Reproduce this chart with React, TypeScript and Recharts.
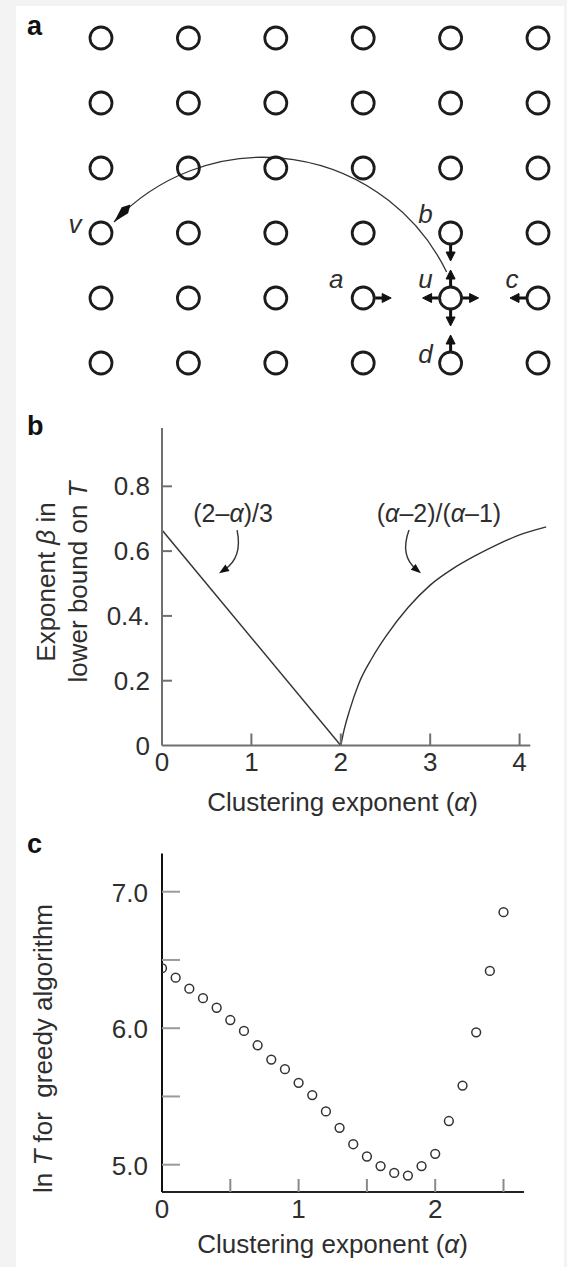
import React from 'react'
import {
  ScatterChart, Scatter, LineChart, Line, XAxis, YAxis, ReferenceLine, Label
} from 'recharts'

const FONT = '"Liberation Sans", Arial, Helvetica, sans-serif'
const INK = '#2e2e2e'
const AXIS_B = '#707070'

// panel a: 6 x 6 lattice, rows counted from the bottom
const gridCols = [0, 1, 2, 3, 4, 5]
const gridRows = [0, 1, 2, 3, 4, 5]
const nodeNames = ['v', 'b', 'a', 'u', 'c', 'd']
const nodeCols = [0, 4, 3, 4, 5, 4]
const nodeRows = [2, 2, 1, 1, 1, 0]
const localFrom = [[4, 1], [4, 1], [4, 1], [4, 1], [3, 1], [4, 2], [5, 1], [4, 0]]
const localTo = [[3, 1], [4, 2], [5, 1], [4, 0], [4, 1], [4, 1], [4, 1], [4, 1]]
const longFrom = [4, 1]
const longTo = [0, 2]

// panel b
const bAlpha = [0, 2, 2.03, 2.1, 2.2, 2.35, 2.5, 2.75, 3, 3.25, 3.5, 3.75, 4, 4.3]
const bLinear = [0.665, 0, null, null, null, null, null, null, null, null, null, null, null, null]
const bCurve = [null, 0, 0.04, 0.11, 0.19, 0.27, 0.335, 0.425, 0.495, 0.545, 0.585, 0.62, 0.65, 0.675]
const bXTicks = [0, 1, 2, 3, 4]
const bYTicks = [0, 0.2, 0.4, 0.6, 0.8]
const bYTickLabels = ['0', '0.2', '0.4.', '0.6', '0.8']
const bNoteText = ['(2–α)/3', '(α–2)/(α–1)']
const bNoteFrom = [[0.84, 0.665], [2.763, 0.665]]
const bNoteTo = [[0.638, 0.532], [2.897, 0.532]]

// panel c
const cAlpha = [0, 0.1, 0.2, 0.3, 0.4, 0.5, 0.6, 0.7, 0.8, 0.9, 1.0, 1.1, 1.2, 1.3, 1.4, 1.5, 1.6, 1.7, 1.8, 1.9, 2.0, 2.1, 2.2, 2.3, 2.4, 2.5]
const cLnT = [6.44, 6.37, 6.29, 6.22, 6.15, 6.06, 5.98, 5.875, 5.77, 5.70, 5.60, 5.51, 5.39, 5.27, 5.15, 5.06, 4.99, 4.94, 4.92, 4.99, 5.08, 5.32, 5.58, 5.97, 6.42, 6.85]
const cXTicks = [0, 0.5, 1, 1.5, 2, 2.5]
const cYTicks = [5, 5.5, 6, 6.5, 7]

const nodes = gridCols.flatMap(c => gridRows.map(r => ({ x: c, y: r })))
const nodeLabels = nodeNames.map((n, i) => ({ x: nodeCols[i], y: nodeRows[i], name: n }))
const bData = bAlpha.map((a, i) => ({ alpha: a, linear: bLinear[i], curve: bCurve[i] }))
const cData = cAlpha.map((a, i) => ({ alpha: a, lnT: cLnT[i] }))

const labelOffset: Record<string, [number, number]> = {
  v: [-26, 0], b: [-25, -10], a: [-27, -10], u: [-25, -10], c: [-26, -10], d: [-25, 0],
}

function NodeCircle({ cx, cy }: any) {
  return <circle cx={cx} cy={cy} r={11} fill="none" stroke="#1c1c1c" strokeWidth={2.8} />
}

function NodeLabel({ cx, cy, payload }: any) {
  const [dx, dy] = labelOffset[payload.name] || [0, 0]
  return (
    <text x={cx + dx} y={cy + dy} textAnchor="middle" fontSize={26} fontStyle="italic"
      fontFamily={FONT} fill={INK}>{payload.name}</text>
  )
}

function LocalArrow({ x1, y1, x2, y2 }: any) {
  const len = Math.hypot(x2 - x1, y2 - y1) || 1
  const ux = (x2 - x1) / len, uy = (y2 - y1) / len
  const nx = -uy, ny = ux
  const sx = x1 + ux * 12, sy = y1 + uy * 12
  const tx = x1 + ux * 28, ty = y1 + uy * 28
  const bx = tx - ux * 9, by = ty - uy * 9
  return (
    <g>
      <line x1={sx} y1={sy} x2={bx + ux * 2} y2={by + uy * 2} stroke="#111" strokeWidth={3} />
      <path d={`M${tx},${ty} L${bx + nx * 4.5},${by + ny * 4.5} L${bx - nx * 4.5},${by - ny * 4.5} Z`}
        fill="#111" stroke="#111" strokeWidth={1} strokeLinejoin="round" />
    </g>
  )
}

function LongArc({ x1, y1, x2, y2 }: any) {
  const sx = x1 - 4, sy = y1 - 26
  const ex = x2 + 13, ey = y2 - 11
  const r = Math.hypot(ex - sx, ey - sy) * 0.607
  return (
    <g>
      <defs>
        <marker id="arcHead" viewBox="0 0 24 10" refX="24" refY="5" markerWidth="24" markerHeight="10"
          markerUnits="userSpaceOnUse" orient="auto">
          <path d="M0,5 L8,0.6 L24,5 L8,9.4 Z" fill="#111" />
        </marker>
      </defs>
      <path d={`M${sx},${sy} A${r},${r} 0 0 0 ${ex},${ey}`} fill="none" stroke="#333" strokeWidth={1.3}
        markerEnd="url(#arcHead)" />
    </g>
  )
}

function NotePointer({ x1, y1, x2, y2, text, bend, textDx }: any) {
  const dx = x2 - x1, dy = y2 - y1
  const L = Math.hypot(dx, dy) || 1
  const qx = (x1 + x2) / 2 + bend * 16 * dy / L
  const qy = (y1 + y2) / 2 - bend * 16 * dx / L
  const hl = Math.hypot(x2 - qx, y2 - qy) || 1
  const ux = (x2 - qx) / hl, uy = (y2 - qy) / hl
  const nx = -uy, ny = ux
  const bx = x2 - ux * 10, by = y2 - uy * 10
  const parts = text.split('α')
  return (
    <g>
      <text x={x1 + textDx} y={y1 - 8} textAnchor="middle" fontSize={25} fontFamily={FONT} fill={INK}>
        {parts.map((p: string, i: number) => (
          <React.Fragment key={i}>
            {p}
            {i < parts.length - 1 && <tspan fontStyle="italic">α</tspan>}
          </React.Fragment>
        ))}
      </text>
      <path d={`M${x1},${y1} Q${qx},${qy} ${x2 - ux * 6},${y2 - uy * 6}`} fill="none" stroke="#333" strokeWidth={1.4} />
      <path d={`M${x2},${y2} L${bx + nx * 3.8},${by + ny * 3.8} L${bx - nx * 3.8},${by - ny * 3.8} Z`} fill="#111" />
    </g>
  )
}

function BXTick({ x, y, payload }: any) {
  const v = payload.value
  return (
    <g>
      {v !== 0 && <line x1={x} x2={x} y1={y} y2={y - 12} stroke={AXIS_B} strokeWidth={2} />}
      <text x={x} y={y + 25} textAnchor="middle" fontSize={26} fontFamily={FONT} fill={INK}>{v}</text>
    </g>
  )
}

function BYTick({ x, y, payload }: any) {
  const v = payload.value
  const idx = bYTicks.indexOf(v)
  return (
    <g>
      {v !== 0 && <line x1={x} x2={x + 10} y1={y} y2={y} stroke={AXIS_B} strokeWidth={2} />}
      <text x={x - 12} y={y + 9} textAnchor="end" fontSize={26} fontFamily={FONT} fill={INK}>
        {idx >= 0 ? bYTickLabels[idx] : v}
      </text>
    </g>
  )
}

function CXTick({ x, y, payload }: any) {
  const v = payload.value
  return (
    <g>
      {v !== 0 && <line x1={x} x2={x} y1={y} y2={y - 13} stroke="#8a8a8a" strokeWidth={2} />}
      {Number.isInteger(v) && (
        <text x={x} y={y + 26} textAnchor="middle" fontSize={26} fontFamily={FONT} fill={INK}>{v}</text>
      )}
    </g>
  )
}

function CYTick({ x, y, payload }: any) {
  const v = payload.value
  return (
    <g>
      <line x1={x} x2={x + 18} y1={y} y2={y} stroke="#9a9a9a" strokeWidth={2} />
      {Number.isInteger(v) && (
        <text x={x - 14} y={y + 10} textAnchor="end" fontSize={26} fontFamily={FONT} fill={INK}>{v.toFixed(1)}</text>
      )}
    </g>
  )
}

const BYTitle = () => (
  <g fontFamily={FONT} fontSize={26} fill={INK}>
    <text transform="translate(55,182) rotate(-90)" textAnchor="middle">
      Exponent <tspan fontStyle="italic">β</tspan> in
    </text>
    <text transform="translate(87,182) rotate(-90)" textAnchor="middle">
      lower bound on <tspan fontStyle="italic">T</tspan>
    </text>
  </g>
)

const BXTitle = () => (
  <text x={342.5} y={411} textAnchor="middle" fontFamily={FONT} fontSize={26} fill={INK}>
    Clustering exponent (<tspan fontStyle="italic">α</tspan>)
  </text>
)

const CYTitle = () => (
  <text transform="translate(52,228.5) rotate(-90)" textAnchor="middle" fontFamily={FONT} fontSize={26}
    fill={INK} style={{ whiteSpace: 'pre' }}>
    {'ln '}<tspan fontStyle="italic">T</tspan>{' for  greedy algorithm'}
  </text>
)

const CXTitle = () => (
  <text x={332.5} y={433} textAnchor="middle" fontFamily={FONT} fontSize={26} fill={INK}>
    Clustering exponent (<tspan fontStyle="italic">α</tspan>)
  </text>
)

const panelLetter = (top: number): React.CSSProperties => ({
  position: 'absolute', left: 27, top, fontFamily: FONT, fontWeight: 'bold', fontSize: 27,
  lineHeight: '27px', color: '#111',
})

export default function App() {
  return (
    <div style={{ position: 'absolute', left: 0, top: 0, width: 567, height: 1267, background: '#f3f3f3', overflow: 'hidden' }}>
      <div style={{ position: 'absolute', left: 16, top: 6, width: 548, height: 1261, background: '#fff' }} />

      <div style={panelLetter(13)}>a</div>
      <div style={panelLetter(413)}>b</div>
      <div style={panelLetter(831)}>c</div>

      <div style={{ position: 'absolute', left: 0, top: 0 }}>
        <ScatterChart width={567} height={400} margin={{ top: 38, right: 29, bottom: 37, left: 101 }}>
          <XAxis type="number" dataKey="x" domain={[0, 5]} hide />
          <YAxis type="number" dataKey="y" domain={[0, 5]} hide />
          <Scatter data={nodes} shape={NodeCircle} isAnimationActive={false} />
          <Scatter data={nodeLabels} shape={NodeLabel} isAnimationActive={false} />
          {localFrom.map((f, i) => (
            <ReferenceLine key={i} ifOverflow="visible"
              segment={[{ x: f[0], y: f[1] }, { x: localTo[i][0], y: localTo[i][1] }]}
              shape={LocalArrow} />
          ))}
          <ReferenceLine ifOverflow="visible"
            segment={[{ x: longFrom[0], y: longFrom[1] }, { x: longTo[0], y: longTo[1] }]}
            shape={LongArc} />
        </ScatterChart>
      </div>

      <div style={{ position: 'absolute', left: 0, top: 400 }}>
        <LineChart width={567} height={420} data={bData} margin={{ top: 28, right: 20.6, bottom: 0, left: 0 }}>
          <XAxis type="number" dataKey="alpha" domain={[0, 4.3]} ticks={bXTicks} interval={0}
            height={74.5} axisLine={false} tickLine={false} tickSize={0} tickMargin={0} tick={<BXTick />}
            allowDataOverflow>
            <Label content={BXTitle} />
          </XAxis>
          <YAxis type="number" domain={[0, 0.98]} ticks={bYTicks} interval={0} width={162}
            axisLine={{ stroke: AXIS_B, strokeWidth: 2 }} tickLine={false} tickSize={0} tickMargin={0}
            tick={<BYTick />} allowDataOverflow>
            <Label content={BYTitle} />
          </YAxis>
          <ReferenceLine ifOverflow="visible" segment={[{ x: 0, y: 0 }, { x: 4.12, y: 0 }]}
            stroke={AXIS_B} strokeWidth={2} />
          <Line dataKey="linear" type="linear" connectNulls dot={false} stroke="#333" strokeWidth={1.4}
            isAnimationActive={false} />
          <Line dataKey="curve" type="monotone" dot={false} stroke="#333" strokeWidth={1.4}
            isAnimationActive={false} />
          {bNoteText.map((t, i) => (
            <ReferenceLine key={t} ifOverflow="visible"
              segment={[{ x: bNoteFrom[i][0], y: bNoteFrom[i][1] }, { x: bNoteTo[i][0], y: bNoteTo[i][1] }]}
              shape={(p: any) => <NotePointer {...p} text={t} bend={i === 0 ? 1 : -1} textDx={i === 0 ? -4 : 30} />} />
          ))}
        </LineChart>
      </div>

      <div style={{ position: 'absolute', left: 0, top: 820 }}>
        <ScatterChart width={567} height={447} margin={{ top: 33.5, right: 43, bottom: 0, left: 0 }}>
          <XAxis type="number" dataKey="alpha" domain={[0, 2.65]} ticks={cXTicks} interval={0} height={75}
            axisLine={{ stroke: '#222', strokeWidth: 2 }} tickLine={false} tickSize={0} tickMargin={0}
            tick={<CXTick />} allowDataOverflow>
            <Label content={CXTitle} />
          </XAxis>
          <YAxis type="number" dataKey="lnT" domain={[4.8, 7.28]} ticks={cYTicks} interval={0} width={162}
            axisLine={{ stroke: '#111', strokeWidth: 2 }} tickLine={false} tickSize={0} tickMargin={0}
            tick={<CYTick />} allowDataOverflow>
            <Label content={CYTitle} />
          </YAxis>
          <Scatter data={cData} isAnimationActive={false}
            shape={({ cx, cy }: any) => <circle cx={cx} cy={cy} r={4.4} fill="none" stroke="#333" strokeWidth={1.5} />} />
        </ScatterChart>
      </div>
    </div>
  )
}
